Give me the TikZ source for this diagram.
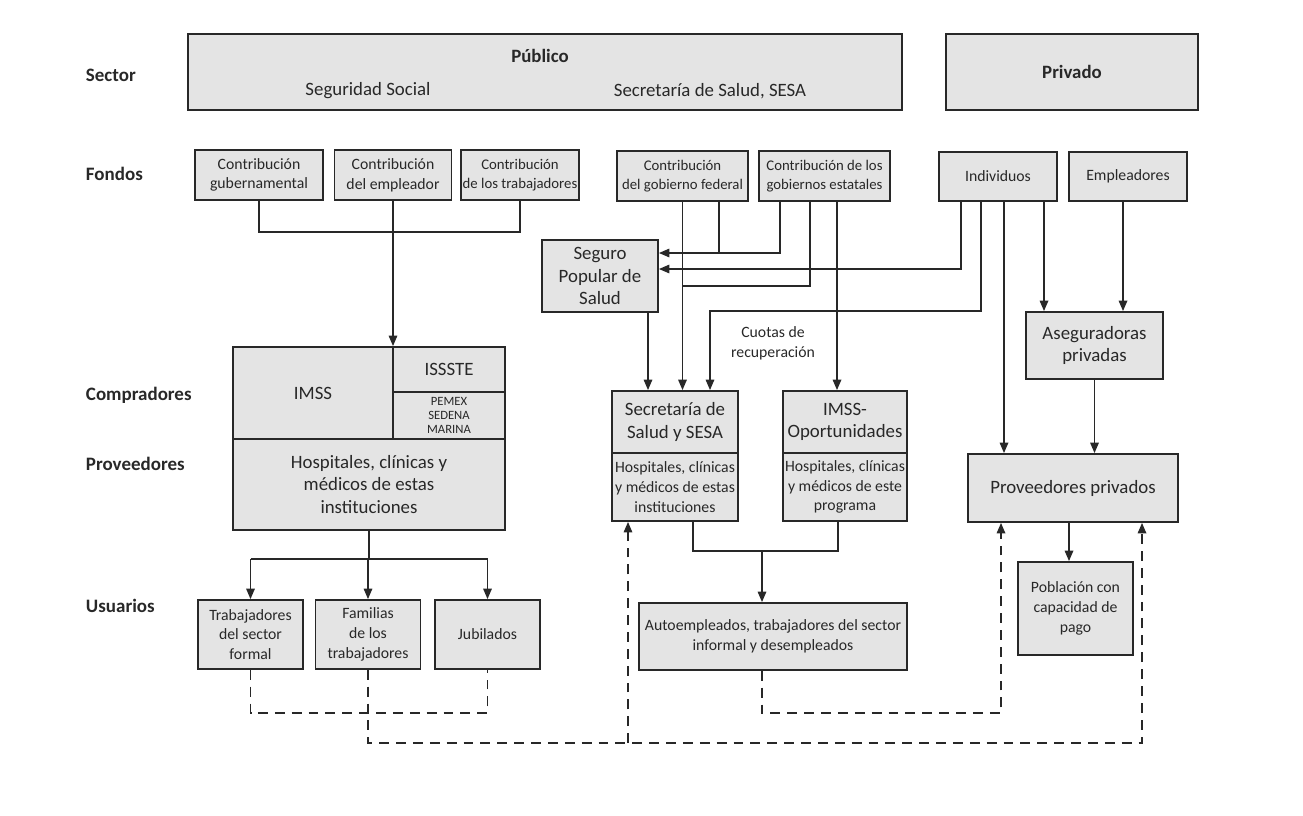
\documentclass[tikz,border=0pt]{standalone}
\usepackage{fontspec}
\setmainfont{Carlito}
\usepackage{tikz}
\usetikzlibrary{arrows.meta,calc}

\definecolor{boxgray}{RGB}{228,228,228}
\definecolor{ink}{RGB}{40,40,40}
\tikzset{
    fbox/.style={draw=ink, fill=boxgray, line width=1.2pt, align=center, inner sep=1pt, text=ink, font=\fontsize{11.2}{14}\selectfont},
    bigtxt/.style={font=\fontsize{13.4}{16}\selectfont},
    smalltxt/.style={font=\fontsize{10.5}{13}\selectfont},
    rowlabel/.style={anchor=west, text=ink, font=\bfseries\fontsize{13.5}{16}\selectfont},
    ln/.style={draw=ink, line width=1.3pt},
    arr/.style={ln, -{Triangle[length=7.5pt,width=6pt]}},
    dsh/.style={ln, dash pattern=on 7pt off 5pt},
    darr/.style={dsh, -{Triangle[length=7.5pt,width=6pt]}}
}

\begin{document}
\begin{tikzpicture}[x=0.025cm, y=-0.025cm]
    \useasboundingbox (0,0) rectangle (1303,816);

    \node[rowlabel] (sect) at (81,75) {Sector};
    \node[rowlabel] (fond) at (81,174) {Fondos};
    \node[rowlabel] (comp) at (81,395) {Compradores};
    \node[rowlabel] (prov) at (81,464) {Proveedores};
    \node[rowlabel] (usu) at (81,606) {Usuarios};

    \node[fbox, minimum width=17.85cm, minimum height=1.9cm] (pub) at (545,72) {};
    \node[text=ink, font=\bfseries\fontsize{13.4}{16}\selectfont] (pubt) at (540,56) {Público};
    \node[text=ink, font=\fontsize{13.4}{16}\selectfont] (segsoc) at (368,91) {Seguridad Social};
    \node[text=ink, font=\fontsize{13.4}{16}\selectfont] (ssesa) at (710,91) {Secretaría de Salud, SESA};
    \node[fbox, minimum width=6.3cm, minimum height=1.9cm, font=\bfseries\fontsize{13.4}{16}\selectfont] (priv) at (1072,72) {Privado};

    \node[fbox, minimum width=3.2cm, minimum height=1.25cm] (cgub) at (259,175) {Contribución\\gubernamental};
    \node[fbox, minimum width=2.925cm, minimum height=1.25cm] (cemp) at (393,175) {Contribución\\del empleador};
    \node[fbox, smalltxt, minimum width=2.9cm, minimum height=1.25cm] (ctrab) at (520,175) {Contribución\\de los trabajadores};
    \node[fbox, smalltxt, minimum width=3.275cm, minimum height=1.25cm] (cfed) at (682.5,176) {Contribución\\del gobierno federal};
    \node[fbox, smalltxt, minimum width=3.275cm, minimum height=1.25cm] (cest) at (824.5,176) {Contribución de los\\gobiernos estatales};
    \node[fbox, minimum width=2.95cm, minimum height=1.225cm] (indiv) at (998,176.5) {Individuos};
    \node[fbox, minimum width=2.95cm, minimum height=1.225cm] (emple) at (1128,176.5) {Empleadores};

    \node[fbox, bigtxt, minimum width=2.9cm, minimum height=1.8cm] (segp) at (600,276) {Seguro\\Popular de\\Salud};

    \node[fbox, bigtxt, minimum width=4cm, minimum height=2.3cm] (imss) at (313,393) {IMSS};
    \node[fbox, bigtxt, minimum width=2.8cm, minimum height=1.125cm] (issste) at (449,369.5) {ISSSTE};
    \node[fbox, font=\fontsize{9}{10}\selectfont, minimum width=2.8cm, minimum height=1.175cm] (pemex) at (449,415.5) {PEMEX\\SEDENA\\MARINA};
    \node[fbox, bigtxt, minimum width=6.8cm, minimum height=2.275cm] (hosp) at (369,484.5) {Hospitales, clínicas y\\médicos de estas\\instituciones};

    \node[fbox, bigtxt, minimum width=3.15cm, minimum height=1.55cm] (ssa) at (675,422) {Secretaría de\\Salud y SESA};
    \node[fbox, minimum width=3.15cm, minimum height=1.7cm] (ssahosp) at (675,487) {Hospitales, clínicas\\y médicos de estas\\instituciones};
    \node[fbox, bigtxt, minimum width=3.1cm, minimum height=1.55cm] (imsso) at (845,422) {IMSS-\\Oportunidades};
    \node[fbox, minimum width=3.1cm, minimum height=1.7cm] (imssohosp) at (845,487) {Hospitales, clínicas\\y médicos de este\\programa};
    \node[text=ink, align=center, font=\fontsize{11.2}{14}\selectfont] (cuotas) at (773,343) {Cuotas de\\recuperación};

    \node[fbox, bigtxt, minimum width=3.425cm, minimum height=1.675cm] (aseg) at (1094.5,345.5) {Aseguradoras\\privadas};
    \node[fbox, bigtxt, minimum width=5.25cm, minimum height=1.7cm] (provpriv) at (1073,488) {Proveedores privados};
    \node[fbox, minimum width=2.875cm, minimum height=2.325cm] (pobl) at (1075.5,608.5) {Población con\\capacidad de\\pago};

    \node[fbox, minimum width=2.625cm, minimum height=1.725cm] (trab) at (250.5,634.5) {Trabajadores\\del sector\\formal};
    \node[fbox, minimum width=2.625cm, minimum height=1.725cm] (fam) at (368,634.5) {Familias\\de los\\trabajadores};
    \node[fbox, minimum width=2.625cm, minimum height=1.725cm] (jub) at (487.5,634.5) {Jubilados};
    \node[fbox, minimum width=6.7cm, minimum height=1.675cm] (auto) at (773,636.5) {Autoempleados, trabajadores del sector\\informal y desempleados};

    \draw[ln] (cgub.south) |- (cemp.south |- 0,232) -| (ctrab.south);
    \draw[arr] (cemp.south) -- (cemp.south |- imss.north);

    \draw[arr] (cfed.south -| 719,0) |- (segp.east |- 0,253);
    \draw[ln] (cest.south -| 780,0) |- (719,253);
    \draw[arr] (indiv.south -| 961,0) |- (segp.east |- 0,269);
    \draw[ln] (cest.south -| 810,0) |- (cfed.south |- 0,286);
    \draw[arr] (cfed.south) -- (cfed.south |- ssa.north);
    \draw[arr] (indiv.south -| 981,0) |- (710,311) -- (ssa.north -| 710,0);
    \draw[arr] (segp.south -| 648,0) -- (ssa.north -| 648,0);
    \draw[arr] (cest.south -| 837,0) -- (imsso.north -| 837,0);

    \draw[arr] (indiv.south -| 1004,0) -- (provpriv.north -| 1004,0);
    \draw[arr] (indiv.south -| 1044,0) -- (aseg.north -| 1044,0);
    \draw[arr] (emple.south -| 1123,0) -- (aseg.north -| 1123,0);
    \draw[arr] (aseg.south) -- (aseg.south |- provpriv.north);
    \draw[arr] (provpriv.south -| 1069,0) -- (pobl.north -| 1069,0);

    \draw[ln] (hosp.south) -- (hosp.south |- 0,559);
    \draw[ln] (trab.north |- 0,559) -- (jub.north |- 0,559);
    \draw[arr] (trab.north |- 0,559) -- (trab.north);
    \draw[arr] (fam.north |- 0,559) -- (fam.north);
    \draw[arr] (jub.north |- 0,559) -- (jub.north);

    \draw[ln] (ssahosp.south -| 693,0) |- (762,551) -| (imssohosp.south -| 838,0);
    \draw[arr] (762,551) -- (auto.north -| 762,0);

    \draw[dsh] (trab.south) |- (jub.south |- 0,713) -- (jub.south);
    \draw[darr] (fam.south) |- (1142,743) -- (provpriv.south -| 1142,0);
    \draw[darr] (628,743) -- (ssahosp.south -| 628,0);
    \draw[darr] (auto.south -| 762,0) |- (1001,713) -- (provpriv.south -| 1001,0);
\end{tikzpicture}
\end{document}
